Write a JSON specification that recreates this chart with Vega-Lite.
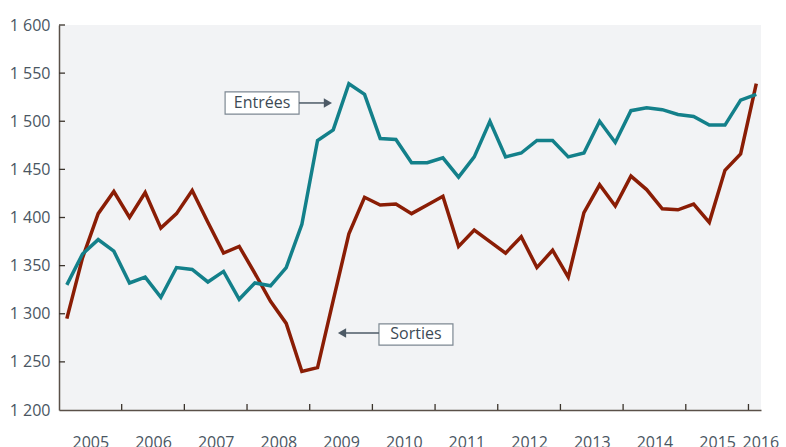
{
  "$schema": "https://vega.github.io/schema/vega-lite/v6.json",
  "width": 702,
  "height": 385,
  "autosize": "none",
  "padding": {"left": 59, "top": 25, "right": 25, "bottom": 37},
  "background": "#ffffff",
  "config": {
    "view": {"fill": "#f2f3f5", "stroke": null},
    "font": "Open Sans",
    "axis": {"grid": false, "ticks": false, "domainColor": "#5a5048", "domainWidth": 1.5, "labelColor": "#4a5662", "labelFont": "Open Sans", "labelFontSize": 16, "title": null}
  },
  "datasets": {
    "series": [
      {"t": 2005.125, "entrees": 1330, "sorties": 1295},
      {"t": 2005.375, "entrees": 1362, "sorties": 1358},
      {"t": 2005.625, "entrees": 1377, "sorties": 1404},
      {"t": 2005.875, "entrees": 1365, "sorties": 1427},
      {"t": 2006.125, "entrees": 1332, "sorties": 1400},
      {"t": 2006.375, "entrees": 1338, "sorties": 1426},
      {"t": 2006.625, "entrees": 1317, "sorties": 1389},
      {"t": 2006.875, "entrees": 1348, "sorties": 1404},
      {"t": 2007.125, "entrees": 1346, "sorties": 1428},
      {"t": 2007.375, "entrees": 1333, "sorties": 1395},
      {"t": 2007.625, "entrees": 1344, "sorties": 1363},
      {"t": 2007.875, "entrees": 1315, "sorties": 1370},
      {"t": 2008.125, "entrees": 1332, "sorties": 1342},
      {"t": 2008.375, "entrees": 1329, "sorties": 1313},
      {"t": 2008.625, "entrees": 1348, "sorties": 1290},
      {"t": 2008.875, "entrees": 1393, "sorties": 1240},
      {"t": 2009.125, "entrees": 1480, "sorties": 1244},
      {"t": 2009.375, "entrees": 1491, "sorties": 1314},
      {"t": 2009.625, "entrees": 1539, "sorties": 1383},
      {"t": 2009.875, "entrees": 1528, "sorties": 1421},
      {"t": 2010.125, "entrees": 1482, "sorties": 1413},
      {"t": 2010.375, "entrees": 1481, "sorties": 1414},
      {"t": 2010.625, "entrees": 1457, "sorties": 1404},
      {"t": 2010.875, "entrees": 1457, "sorties": 1413},
      {"t": 2011.125, "entrees": 1462, "sorties": 1422},
      {"t": 2011.375, "entrees": 1442, "sorties": 1370},
      {"t": 2011.625, "entrees": 1463, "sorties": 1387},
      {"t": 2011.875, "entrees": 1500, "sorties": 1375},
      {"t": 2012.125, "entrees": 1463, "sorties": 1363},
      {"t": 2012.375, "entrees": 1467, "sorties": 1380},
      {"t": 2012.625, "entrees": 1480, "sorties": 1348},
      {"t": 2012.875, "entrees": 1480, "sorties": 1366},
      {"t": 2013.125, "entrees": 1463, "sorties": 1338},
      {"t": 2013.375, "entrees": 1467, "sorties": 1405},
      {"t": 2013.625, "entrees": 1500, "sorties": 1434},
      {"t": 2013.875, "entrees": 1478, "sorties": 1412},
      {"t": 2014.125, "entrees": 1511, "sorties": 1443},
      {"t": 2014.375, "entrees": 1514, "sorties": 1429},
      {"t": 2014.625, "entrees": 1512, "sorties": 1409},
      {"t": 2014.875, "entrees": 1507, "sorties": 1408},
      {"t": 2015.125, "entrees": 1505, "sorties": 1414},
      {"t": 2015.375, "entrees": 1496, "sorties": 1395},
      {"t": 2015.625, "entrees": 1496, "sorties": 1449},
      {"t": 2015.875, "entrees": 1522, "sorties": 1466},
      {"t": 2016.125, "entrees": 1528, "sorties": 1539}
    ],
    "xticks": [
      {"year": 2006}, {"year": 2007}, {"year": 2008}, {"year": 2009}, {"year": 2010}, {"year": 2011},
      {"year": 2012}, {"year": 2013}, {"year": 2014}, {"year": 2015}, {"year": 2016}
    ],
    "yticks": [
      {"v": 1250}, {"v": 1300}, {"v": 1350}, {"v": 1400}, {"v": 1450}, {"v": 1500}, {"v": 1550}, {"v": 1600}
    ],
    "notes": [
      {"label": "Entrées", "bx1": 2007.65, "bx2": 2008.83, "by1": 1507.5, "by2": 1530.5, "tx": 2008.24, "ty": 1519, "ax1": 2008.83, "ax2": 2009.29, "ay": 1519},
      {"label": "Sorties", "bx1": 2010.105, "bx2": 2011.285, "by1": 1267.5, "by2": 1289.5, "tx": 2010.695, "ty": 1278.5, "ax1": 2010.105, "ax2": 2009.515, "ay": 1280}
    ]
  },
  "layer": [
    {
      "data": {"name": "series"},
      "mark": {"type": "line", "color": "#8a1d05", "strokeWidth": 3.5, "strokeJoin": "miter"},
      "encoding": {
        "x": {"field": "t", "type": "quantitative",
          "scale": {"domain": [2005, 2016.2], "nice": false, "zero": false},
          "axis": {
            "values": [2005.5, 2006.5, 2007.5, 2008.5, 2009.5, 2010.5, 2011.5, 2012.5, 2013.5, 2014.5, 2015.5, 2016.19],
            "labelExpr": "format(floor(datum.value), 'd')",
            "labelPadding": 24,
            "labelOverlap": false,
            "labelBound": false,
            "labelFlush": false
          }
        },
        "y": {"field": "sorties", "type": "quantitative",
          "scale": {"domain": [1200, 1600], "nice": false, "zero": false},
          "axis": {
            "values": [1200, 1250, 1300, 1350, 1400, 1450, 1500, 1550, 1600],
            "labelExpr": "replace(format(datum.value, ','), ',', ' ')",
            "labelPadding": 9
          }
        }
      }
    },
    {
      "data": {"name": "series"},
      "mark": {"type": "line", "color": "#13808a", "strokeWidth": 3.5, "strokeJoin": "miter"},
      "encoding": {
        "x": {"field": "t", "type": "quantitative"},
        "y": {"field": "entrees", "type": "quantitative"}
      }
    },
    {
      "data": {"name": "xticks"},
      "mark": {"type": "rule", "color": "#3a332c", "strokeWidth": 1.3, "y2Offset": -6},
      "encoding": {
        "x": {"field": "year", "type": "quantitative"},
        "y": {"datum": 1200},
        "y2": {"datum": 1200}
      }
    },
    {
      "data": {"name": "yticks"},
      "mark": {"type": "rule", "color": "#3a332c", "strokeWidth": 1.3, "x2Offset": 6},
      "encoding": {
        "y": {"field": "v", "type": "quantitative"},
        "x": {"datum": 2005},
        "x2": {"datum": 2005}
      }
    },
    {
      "data": {"name": "notes"},
      "mark": {"type": "rect", "fill": "#ffffff", "stroke": "#7d8892", "strokeWidth": 1.2},
      "encoding": {
        "x": {"field": "bx1", "type": "quantitative"},
        "x2": {"field": "bx2"},
        "y": {"field": "by1", "type": "quantitative"},
        "y2": {"field": "by2"}
      }
    },
    {
      "data": {"name": "notes"},
      "mark": {"type": "rule", "color": "#4d5a66", "strokeWidth": 1.5},
      "encoding": {
        "x": {"field": "ax1", "type": "quantitative"},
        "x2": {"field": "ax2"},
        "y": {"field": "ay", "type": "quantitative"}
      }
    },
    {
      "data": {"name": "notes"},
      "transform": [{"filter": "datum.label == 'Entrées'"}],
      "mark": {"type": "point", "shape": "triangle-right", "filled": true, "color": "#4d5a66", "size": 90, "opacity": 1},
      "encoding": {
        "x": {"field": "ax2", "type": "quantitative"},
        "y": {"field": "ay", "type": "quantitative"}
      }
    },
    {
      "data": {"name": "notes"},
      "transform": [{"filter": "datum.label == 'Sorties'"}],
      "mark": {"type": "point", "shape": "triangle-left", "filled": true, "color": "#4d5a66", "size": 90, "opacity": 1},
      "encoding": {
        "x": {"field": "ax2", "type": "quantitative"},
        "y": {"field": "ay", "type": "quantitative"}
      }
    },
    {
      "data": {"name": "notes"},
      "mark": {"type": "text", "color": "#3d4a55", "fontSize": 16, "font": "Open Sans", "align": "center", "baseline": "middle"},
      "encoding": {
        "x": {"field": "tx", "type": "quantitative"},
        "y": {"field": "ty", "type": "quantitative"},
        "text": {"field": "label"}
      }
    }
  ]
}
